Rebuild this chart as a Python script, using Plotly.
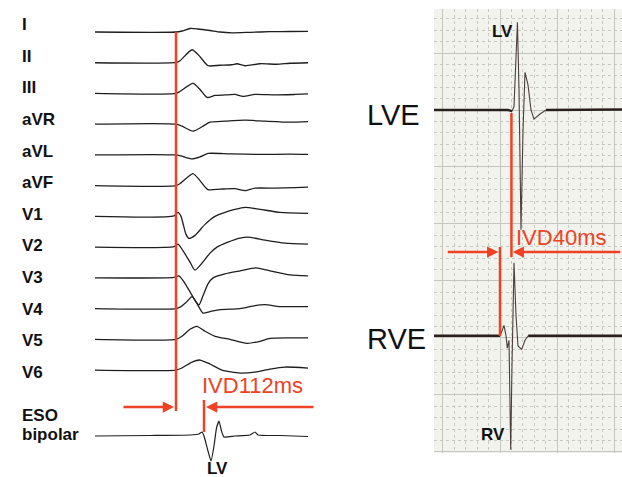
import plotly.graph_objects as go
import numpy as np

W, H = 622, 477

# ---------------- DATA ----------------
# Surface ECG leads: time (ms, relative to QRS onset) and amplitude (mV)
LEAD_NAMES = ["I", "II", "III", "aVR", "aVL", "aVF", "V1", "V2", "V3", "V4", "V5", "V6"]

lead_I_t = [-324, 0, 24, 56, 88, 136, 176, 224, 296, 376, 456, 528]
lead_I_v = [0, 0, 0.1, 0.35, 0.3, 0.15, 0, -0.08, -0.03, 0.03, 0.05, 0.07]

lead_II_t = [-324, 0, 16, 64, 96, 128, 176, 224, 244, 276, 336, 404, 456, 528]
lead_II_v = [0, 0.03, 0.2, 1.3, 0.6, -0.3, -0.25, -0.2, -0.1, -0.3, -0.1, -0.15, -0.05, 0]

lead_III_t = [-324, 0, 16, 68, 96, 124, 156, 196, 236, 268, 316, 396, 476, 528]
lead_III_v = [0, 0, 0.2, 1.0, 0.4, -0.4, -0.2, -0.15, -0.1, -0.3, -0.1, -0.15, -0.1, -0.05]

lead_aVR_t = [-324, 0, 24, 68, 108, 136, 196, 276, 356, 456, 528]
lead_aVR_v = [0, 0, -0.2, -0.7, -0.2, 0.2, 0.3, 0.4, 0.3, 0.2, 0.25]

lead_aVL_t = [-324, 0, 20, 64, 96, 128, 216, 336, 456, 528]
lead_aVL_v = [0, 0, -0.1, -0.4, -0.2, 0.15, 0.1, 0.05, 0.08, 0.05]

lead_aVF_t = [-324, 0, 16, 68, 96, 128, 176, 236, 276, 316, 396, 476, 528]
lead_aVF_v = [0, 0, 0.2, 1.2, 0.5, -0.4, -0.35, -0.3, -0.5, -0.25, -0.25, -0.2, -0.15]

lead_V1_t = [-324, -8, 8, 20, 40, 52, 76, 116, 156, 196, 236, 276, 336, 416, 528]
lead_V1_v = [0, 0.05, 0.4, 0, -1.8, -2.2, -1.9, -0.8, 0, 0.4, 0.7, 0.9, 0.7, 0.4, 0.3]

lead_V2_t = [-324, -8, 8, 24, 56, 76, 104, 136, 164, 208, 256, 288, 356, 436, 528]
lead_V2_v = [0, 0.05, 0.3, -0.2, -1.5, -2.3, -1.6, -0.6, 0, 0.5, 0.9, 1.0, 0.7, 0.4, 0.3]

lead_V3_t = [-324, -8, 12, 32, 56, 80, 92, 108, 128, 148, 196, 256, 320, 376, 456, 528]
lead_V3_v = [0, 0.05, 0.2, -0.4, -1.4, -2.4, -2.7, -1.8, -0.6, 0, 0.4, 0.7, 1.0, 0.7, 0.3, 0.2]

lead_V4_t = [-324, 0, 20, 40, 64, 84, 108, 136, 176, 256, 316, 356, 416, 528]
lead_V4_v = [0, 0, 0.2, 0.6, 1.2, 0.5, -0.45, -0.3, -0.1, 0, 0.3, 0.4, 0.2, 0.2]

lead_V5_t = [-324, 0, 24, 56, 84, 116, 156, 216, 284, 336, 376, 456, 528]
lead_V5_v = [0, 0, 0.3, 1.0, 1.3, 0.8, 0.3, 0, -0.4, -0.2, 0.1, 0.15, 0.15]

lead_V6_t = [-324, 0, 24, 64, 96, 136, 184, 256, 316, 376, 436, 528]
lead_V6_v = [0, 0, 0.2, 0.8, 1.0, 0.6, 0, -0.3, -0.2, 0.1, 0.3, 0.2]

# Esophageal bipolar lead
eso_t = [-324, -104, 56, 92, 104, 112, 128, 140, 152, 162, 172, 182, 192, 236, 296, 316, 328, 416, 528]
eso_v = [0, 0.05, 0.1, 0.2, 0.4, 0, -1.5, -2.5, -1.0, 0.8, 1.5, 0.5, -0.1, 0, 0.1, 0.4, 0.1, 0.05, -0.05]

QRS_ONSET_MS = 0
IVD_ESO_MS = 112

# Intracardiac electrograms (ms relative to RV onset, mV)
lve_t = [-231, 0, 28, 42, 49, 61, 66.5, 73.5, 80.5, 87.5, 98, 108.5, 119, 140, 161, 427]
lve_v = [0, 0, 0, -0.01, 0.03, 0.77, 0.18, -1.05, -0.18, 0.33, 0.22, 0, -0.08, -0.035, 0, 0.005]

rve_t = [-231, 0, 3.5, 14, 21, 25.5, 31.5, 37.5, 42, 49, 56, 63, 76, 87.5, 99, 427]
rve_v = [0, 0, 0.02, 0.09, 0, -0.11, -0.04, -1.0, -0.26, 0.64, 0.18, -0.09, -0.12, -0.04, 0, 0]

RV_ONSET_MS = 0
IVD_EGM_MS = 40

# ---------------- LAYOUT HELPERS ----------------
def fx(px):
    return px / W

def fy(py):
    return 1 - py / H

RED = "#ef4123"
INK = "#1e1e1e"
FONT = "Arial, Liberation Sans, sans-serif"

leads_t = [lead_I_t, lead_II_t, lead_III_t, lead_aVR_t, lead_aVL_t, lead_aVF_t,
           lead_V1_t, lead_V2_t, lead_V3_t, lead_V4_t, lead_V5_t, lead_V6_t]
leads_v = [lead_I_v, lead_II_v, lead_III_v, lead_aVR_v, lead_aVL_v, lead_aVF_v,
           lead_V1_v, lead_V2_v, lead_V3_v, lead_V4_v, lead_V5_v, lead_V6_v]

LEAD_SPACING = 3.073   # mV between stacked leads
ESO_OFFSET = -40.4
LVE_OFFSET = 0.0
RVE_OFFSET = -1.98

fig = go.Figure()

for i, (t, v) in enumerate(zip(leads_t, leads_v)):
    fig.add_trace(go.Scatter(
        x=t, y=np.array(v) - i * LEAD_SPACING, mode="lines",
        line=dict(color=INK, width=1.3, shape="spline", smoothing=0.6),
        hoverinfo="skip", xaxis="x", yaxis="y"))

fig.add_trace(go.Scatter(
    x=eso_t, y=np.array(eso_v) + ESO_OFFSET, mode="lines",
    line=dict(color=INK, width=1.2, shape="spline", smoothing=0.4),
    hoverinfo="skip", xaxis="x", yaxis="y"))

# electrograms: thin stylus for the deflections, heavier trace on the isoelectric baseline
for t, v, off in [(lve_t, lve_v, LVE_OFFSET), (rve_t, rve_v, RVE_OFFSET)]:
    t = np.array(t, dtype=float)
    y = np.array(v, dtype=float) + off
    fig.add_trace(go.Scatter(
        x=t, y=y, mode="lines", line=dict(color="#4a3f3a", width=1.1),
        hoverinfo="skip", xaxis="x2", yaxis="y2"))
    flat = np.abs(y - off) < 0.02
    yb = np.where(flat, y, np.nan)
    # keep only baseline runs at the two ends
    first_dev = np.argmax(~flat)
    last_dev = len(flat) - 1 - np.argmax(~flat[::-1])
    yb[first_dev:last_dev + 1] = np.nan
    fig.add_trace(go.Scatter(
        x=t, y=yb, mode="lines", line=dict(color="#2a201b", width=2.4),
        connectgaps=False, hoverinfo="skip", xaxis="x2", yaxis="y2"))

# ---------------- SHAPES ----------------
shapes = [
    dict(type="rect", xref="x2 domain", yref="y2 domain", x0=0, x1=1, y0=0, y1=1,
         fillcolor="#f3f3ee", line=dict(width=0), layer="below"),
    dict(type="line", xref="x", yref="paper", x0=QRS_ONSET_MS, x1=QRS_ONSET_MS,
         y0=fy(411), y1=fy(32), line=dict(color=RED, width=2.5)),
    dict(type="line", xref="x", yref="paper", x0=QRS_ONSET_MS + IVD_ESO_MS, x1=QRS_ONSET_MS + IVD_ESO_MS,
         y0=fy(432), y1=fy(400), line=dict(color=RED, width=2.5)),
    dict(type="line", xref="x2", yref="paper", x0=RV_ONSET_MS, x1=RV_ONSET_MS,
         y0=fy(336), y1=fy(247), line=dict(color=RED, width=2.5)),
    dict(type="line", xref="x2", yref="paper", x0=RV_ONSET_MS + IVD_EGM_MS, x1=RV_ONSET_MS + IVD_EGM_MS,
         y0=fy(257), y1=fy(113), line=dict(color=RED, width=2.5)),
]

# ---------------- ANNOTATIONS ----------------
ann = []
label_y0, label_step = 24.5, 31.64
for i, name in enumerate(LEAD_NAMES):
    ann.append(dict(x=fx(20), y=fy(label_y0 + i * label_step), xref="paper", yref="paper",
                    text=f"<b>{name}</b>", showarrow=False, xanchor="left", yanchor="middle",
                    font=dict(family=FONT, size=17, color="#111")))
ann.append(dict(x=fx(20), y=fy(415), xref="paper", yref="paper", text="<b>ESO</b>",
                showarrow=False, xanchor="left", yanchor="middle", font=dict(family=FONT, size=17, color="#111")))
ann.append(dict(x=fx(20), y=fy(434), xref="paper", yref="paper", text="<b>bipolar</b>",
                showarrow=False, xanchor="left", yanchor="middle", font=dict(family=FONT, size=17, color="#111")))
ann.append(dict(x=fx(217), y=fy(468), xref="paper", yref="paper", text="<b>LV</b>",
                showarrow=False, xanchor="center", yanchor="middle", font=dict(family=FONT, size=17, color="#111")))

ann.append(dict(x=fx(200), y=fy(385), xref="paper", yref="paper", text=f"IVD{IVD_ESO_MS}ms",
                showarrow=False, xanchor="left", yanchor="middle", font=dict(family=FONT, size=22, color=RED)))
ann.append(dict(x=fx(514), y=fy(237), xref="paper", yref="paper", text=f"IVD{IVD_EGM_MS}ms",
                showarrow=False, xanchor="left", yanchor="middle", font=dict(family=FONT, size=22, color=RED)))

ann.append(dict(x=fx(365), y=fy(115), xref="paper", yref="paper", text="LVE",
                showarrow=False, xanchor="left", yanchor="middle", font=dict(family=FONT, size=29, color="#111")))
ann.append(dict(x=fx(365), y=fy(339), xref="paper", yref="paper", text="RVE",
                showarrow=False, xanchor="left", yanchor="middle", font=dict(family=FONT, size=29, color="#111")))
ann.append(dict(x=fx(502), y=fy(31), xref="paper", yref="paper", text="<b>LV</b>",
                showarrow=False, xanchor="center", yanchor="middle", font=dict(family=FONT, size=17, color="#111")))
ann.append(dict(x=fx(493), y=fy(434), xref="paper", yref="paper", text="<b>RV</b>",
                showarrow=False, xanchor="center", yanchor="middle", font=dict(family=FONT, size=17, color="#111")))

# arrows
arrow_style = dict(showarrow=True, text="", arrowhead=2, arrowsize=0.9, arrowwidth=2.5,
                   arrowcolor=RED, standoff=0, ay=0)
ann.append(dict(x=QRS_ONSET_MS - 8, y=fy(407), xref="x", yref="paper", ax=-52, **arrow_style))
ann.append(dict(x=QRS_ONSET_MS + IVD_ESO_MS + 8, y=fy(407), xref="x", yref="paper", ax=109, **arrow_style))
ann.append(dict(x=RV_ONSET_MS - 6, y=fy(252), xref="x2", yref="paper", ax=-52, **arrow_style))
ann.append(dict(x=RV_ONSET_MS + IVD_EGM_MS + 4.5, y=fy(252), xref="x2", yref="paper", ax=109, **arrow_style))

grid_major = "#c6c6c0"
grid_minor = "#c9c9c3"

fig.update_layout(
    width=W, height=H, margin=dict(l=0, r=0, t=0, b=0),
    paper_bgcolor="white", plot_bgcolor="rgba(0,0,0,0)", showlegend=False,
    xaxis=dict(domain=[0, fx(330)], range=[-704, 616], visible=False),
    yaxis=dict(domain=[0, 1], range=[-44.5, 3.2], visible=False),
    xaxis2=dict(domain=[fx(434), 1], range=[-231, 427], anchor="y2",
                showgrid=True, gridcolor=grid_major, gridwidth=1, tick0=0, dtick=200,
                showticklabels=False, ticks="", zeroline=False, showline=False,
                minor=dict(showgrid=True, tick0=0, dtick=40, gridcolor=grid_minor,
                           griddash="dot", gridwidth=1)),
    yaxis2=dict(domain=[fy(453), fy(9)], range=[-3.009, 0.886], anchor="x2",
                showgrid=True, gridcolor=grid_major, gridwidth=1, tick0=0, dtick=0.5,
                showticklabels=False, ticks="", zeroline=False, showline=False,
                minor=dict(showgrid=True, tick0=0, dtick=0.1, gridcolor=grid_minor,
                           griddash="dot", gridwidth=1)),
    shapes=shapes, annotations=ann,
)

fig.write_html("out.html")
